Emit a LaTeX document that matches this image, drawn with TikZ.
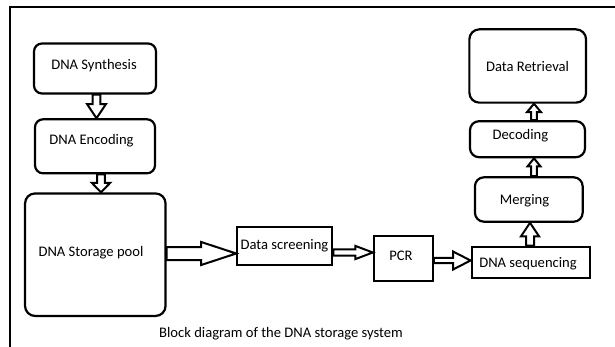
\documentclass[tikz,border=0pt]{standalone}
\usepackage{fontspec}
\setmainfont{Carlito}
\usetikzlibrary{calc}
\tikzset{
  rbox/.style={draw, line width=2.2pt, rounded corners=9pt, inner sep=0pt},
  sbox/.style={draw, line width=2.2pt, inner sep=0pt},
  txt/.style={font=\fontsize{14.6}{17}\selectfont, inner sep=0pt, anchor=base},
  arrowline/.style={draw=black, fill=white, line width=2pt, line join=miter},
  harrow/.style n args={3}{arrowline, to path={
    ($(\tikztostart)+(0,-#1)$) -- ($(\tikztotarget)+(-#3,-#1)$) -- ($(\tikztotarget)+(-#3,-#2)$)
    -- (\tikztotarget) -- ($(\tikztotarget)+(-#3,#2)$) -- ($(\tikztotarget)+(-#3,#1)$)
    -- ($(\tikztostart)+(0,#1)$) -- cycle}},
  darrow/.style n args={3}{arrowline, to path={
    ($(\tikztostart)+(-#1,0)$) -- ($(\tikztotarget)+(-#1,-#3)$) -- ($(\tikztotarget)+(-#2,-#3)$)
    -- (\tikztotarget) -- ($(\tikztotarget)+(#2,-#3)$) -- ($(\tikztotarget)+(#1,-#3)$)
    -- ($(\tikztostart)+(#1,0)$) -- cycle}},
  uarrow/.style n args={3}{arrowline, to path={
    ($(\tikztostart)+(-#1,0)$) -- ($(\tikztotarget)+(-#1,#3)$) -- ($(\tikztotarget)+(-#2,#3)$)
    -- (\tikztotarget) -- ($(\tikztotarget)+(#2,#3)$) -- ($(\tikztotarget)+(#1,#3)$)
    -- ($(\tikztostart)+(#1,0)$) -- cycle}},
}
\begin{document}
\begin{tikzpicture}[x=1pt,y=-1pt]
\useasboundingbox (0,0) rectangle (615,347);
\fill[white] (0,0) rectangle (615,347);
% outer frame (top and left edges visible)
\draw[line width=2pt] (9.5,348) -- (9.5,7.5) -- (616,7.5);

% boxes
\node[rbox, rounded corners=8pt, minimum width=122pt, minimum height=50pt] (syn) at (95,68.5) {};
\node[rbox, rounded corners=8pt, minimum width=120pt, minimum height=54pt] (enc) at (95,146.3) {};
\node[rbox, rounded corners=10pt, minimum width=140.5pt, minimum height=122.5pt] (pool) at (95.3,254.7) {};
\node[sbox, minimum width=95pt, minimum height=38.3pt] (scr) at (284.8,245.8) {};
\node[sbox, minimum width=58.7pt, minimum height=45.3pt] (pcr) at (403.3,258.3) {};
\node[sbox, minimum width=118.3pt, minimum height=31pt] (seq) at (530.8,262.2) {};
\node[rbox, rounded corners=9pt, minimum width=107.7pt, minimum height=44.4pt] (merg) at (528.8,199.5) {};
\node[rbox, rounded corners=9pt, minimum width=115pt, minimum height=36pt] (dec) at (527.5,139.2) {};
\node[rbox, rounded corners=10pt, minimum width=116.7pt, minimum height=73.3pt] (ret) at (527.7,66) {};

% texts
\node[txt] (synT) at (94,69.3) {DNA Synthesis};
\node[txt] (encT) at (91.5,145) {DNA Encoding};
\node[txt] (poolT) at (91,256.5) {DNA Storage pool};
\node[txt] (scrT) at (284.5,250) {Data screening};
\node[txt] (pcrT) at (401,260.5) {PCR};
\node[txt] (seqT) at (528,267) {DNA sequencing};
\node[txt] (mergT) at (524.5,205) {Merging};
\node[txt] (decT) at (520.5,139.5) {Decoding};
\node[txt] (retT) at (527.5,71.7) {Data Retrieval};
\node[txt] (cap) at (281,337) {Block diagram of the DNA storage system};

% hollow arrows
\draw[darrow={3.8}{9.4}{14}] (96.5,0 |- syn.south) to (96.5,0 |- enc.north);
\draw[darrow={3.8}{9.2}{9.5}] (101,0 |- enc.south) to (101,0 |- pool.north);
\draw[harrow={6.5}{11.5}{35}] (pool.east |- 0,253.5) to (scr.west |- 0,253.5);
\draw[harrow={3.2}{6.6}{17.5}] (scr.east |- 0,252.5) to (pcr.west |- 0,252.5);
\draw[harrow={2.6}{9}{17.5}] (pcr.east |- 0,260.5) to (seq.west |- 0,260.5);
\draw[uarrow={4}{9}{13.5}] (530,0 |- seq.north) to (530,0 |- merg.south);
\draw[uarrow={2.8}{6.4}{8}] (534,0 |- merg.north) to (534,0 |- dec.south);
\draw[uarrow={2.8}{7}{8.4}] (534,0 |- dec.north) to (534,0 |- ret.south);
\end{tikzpicture}
\end{document}
